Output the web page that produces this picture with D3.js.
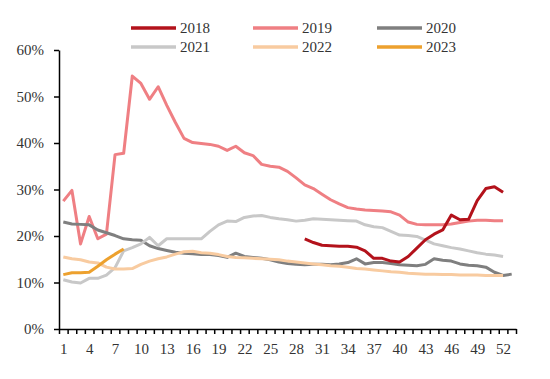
<!DOCTYPE html>
<html><head><meta charset="utf-8">
<script src="https://cdn.jsdelivr.net/npm/d3@7"></script>
<style>
body{margin:0;background:#fff;}
svg{display:block;}
svg text{font-family:"Liberation Serif",serif !important;fill:#333;}
</style></head>
<body><svg id="c" width="550" height="379" font-family="Liberation Serif"></svg>
<script>
const weeks = d3.range(1, 54);
const xTickLabels = [1,4,7,10,13,16,19,22,25,28,31,34,37,40,43,46,49,52];
const yTickValues = [0,0.1,0.2,0.3,0.4,0.5,0.6];
const seriesNames = ["2018","2019","2020","2021","2022","2023"];
const seriesColors = ["#B3121B","#EF7F83","#7F7F7F","#C8C8C8","#F8CBA0","#EDA12E"];

const v2018 = [null,null,null,null,null,null,null,null,null,null,null,null,null,null,null,null,null,null,null,null,null,null,null,null,null,null,null,null,
  19.4,18.6,18.0,17.9,17.8,17.8,17.6,16.8,15.2,15.2,14.6,14.4,15.6,17.4,19.2,20.4,21.3,24.5,23.5,23.6,27.6,30.2,30.6,29.4];
const v2019 = [27.5,29.8,18.3,24.2,19.4,20.4,37.5,37.8,54.4,52.8,49.4,52.1,48.1,44.4,41.0,40.1,39.9,39.7,39.3,38.4,39.3,37.9,37.3,35.4,35.0,34.8,33.9,32.5,
  31.0,30.2,29.0,27.8,26.9,26.1,25.8,25.6,25.5,25.4,25.2,24.5,23.0,22.5,22.4,22.4,22.4,22.6,22.9,23.2,23.4,23.4,23.3,23.3];
const v2020 = [23.0,22.6,22.5,22.4,21.3,20.7,20.1,19.4,19.2,19.1,17.9,17.3,16.9,16.5,16.3,16.2,16.0,16.0,15.8,15.4,16.3,15.6,15.4,15.2,14.9,14.4,14.1,13.9,
  13.8,13.9,13.9,13.8,14.0,14.3,15.1,14.0,14.3,14.3,14.1,13.8,13.7,13.6,13.9,15.1,14.8,14.6,14.0,13.7,13.6,13.3,12.2,11.5,11.8];
const v2021 = [10.6,10.1,9.9,10.9,10.9,11.6,13.2,16.8,17.5,18.3,19.7,17.9,19.4,19.4,19.4,19.4,19.4,21.0,22.4,23.2,23.1,24.0,24.3,24.4,24.0,23.7,23.5,23.2,
  23.4,23.7,23.6,23.5,23.4,23.3,23.2,22.4,22.0,21.8,21.0,20.2,20.1,19.9,19.1,18.3,17.9,17.5,17.2,16.8,16.4,16.1,15.9,15.6];
const v2022 = [15.5,15.1,14.9,14.4,14.2,13.3,12.9,12.9,13.0,13.9,14.6,15.1,15.5,16.1,16.6,16.7,16.4,16.3,16.0,15.6,15.4,15.3,15.2,15.1,15.0,14.9,14.6,14.4,
  14.2,14.0,13.8,13.6,13.5,13.3,13.0,12.9,12.7,12.5,12.3,12.2,12.0,11.9,11.8,11.8,11.7,11.7,11.6,11.6,11.6,11.5,11.5,11.5];
const v2023 = [11.7,12.1,12.1,12.2,13.5,14.9,16.1,17.2];

const allValues = [v2018, v2019, v2020, v2021, v2022, v2023];

const svg = d3.select("#c");
const x = d3.scaleLinear().domain([0.5, 53.5]).range([59, 516]);
const y = d3.scaleLinear().domain([0, 0.6]).range([329, 50]);

// y axis
const gy = svg.append("g").attr("transform","translate(59,0)")
  .call(d3.axisLeft(y).tickValues(yTickValues).tickFormat(d3.format(".0%")).tickSize(5).tickSizeOuter(0));
gy.attr("font-family","Liberation Serif");
gy.select(".domain").attr("stroke","#000").attr("stroke-width",1.5);
gy.selectAll(".tick line").attr("stroke","#000").attr("stroke-width",1.5);
gy.selectAll("text").attr("font-size",15).attr("x",-15);

// x axis ticks (category boundaries)
const gx = svg.append("g").attr("transform","translate(0,329)")
  .call(d3.axisBottom(x).tickValues(d3.range(0.5, 54, 1)).tickFormat("").tickSize(5).tickSizeOuter(0));
gx.select(".domain").attr("stroke","#000").attr("stroke-width",1.5);
gx.selectAll(".tick line").attr("stroke","#000").attr("stroke-width",1.5);
// x labels
const gxl = svg.append("g").attr("transform","translate(0,329)")
  .call(d3.axisBottom(x).tickValues(xTickLabels).tickFormat(d3.format("d")).tickSize(0));
gxl.attr("font-family","Liberation Serif");
gxl.select(".domain").remove();
gxl.selectAll("text").attr("font-size",15).attr("dy","1.45em");

const line = d3.line()
  .defined(d => d.v != null)
  .x(d => x(d.w)).y(d => y(d.v / 100));

const drawOrder = [1,2,3,4,5,0];
drawOrder.forEach(i => {
  const data = allValues[i].map((v, k) => ({w: weeks[k], v}));
  svg.append("path").datum(data)
    .attr("d", line).attr("fill","none")
    .attr("stroke", seriesColors[i]).attr("stroke-width", 3)
    .attr("stroke-linejoin","round");
});

// legend
const legX = [131, 253, 377];
const legY = [28, 47];
seriesNames.forEach((n, i) => {
  const cx = legX[i % 3], cy = legY[Math.floor(i / 3)];
  const g = svg.append("g");
  g.append("line").attr("x1", cx).attr("x2", cx + 45).attr("y1", cy).attr("y2", cy)
    .attr("stroke", seriesColors[i]).attr("stroke-width", 3.5);
  g.append("text").attr("x", cx + 49).attr("y", cy).attr("dy","0.35em")
    .attr("font-size",15).text(n);
});
</script></body></html>
